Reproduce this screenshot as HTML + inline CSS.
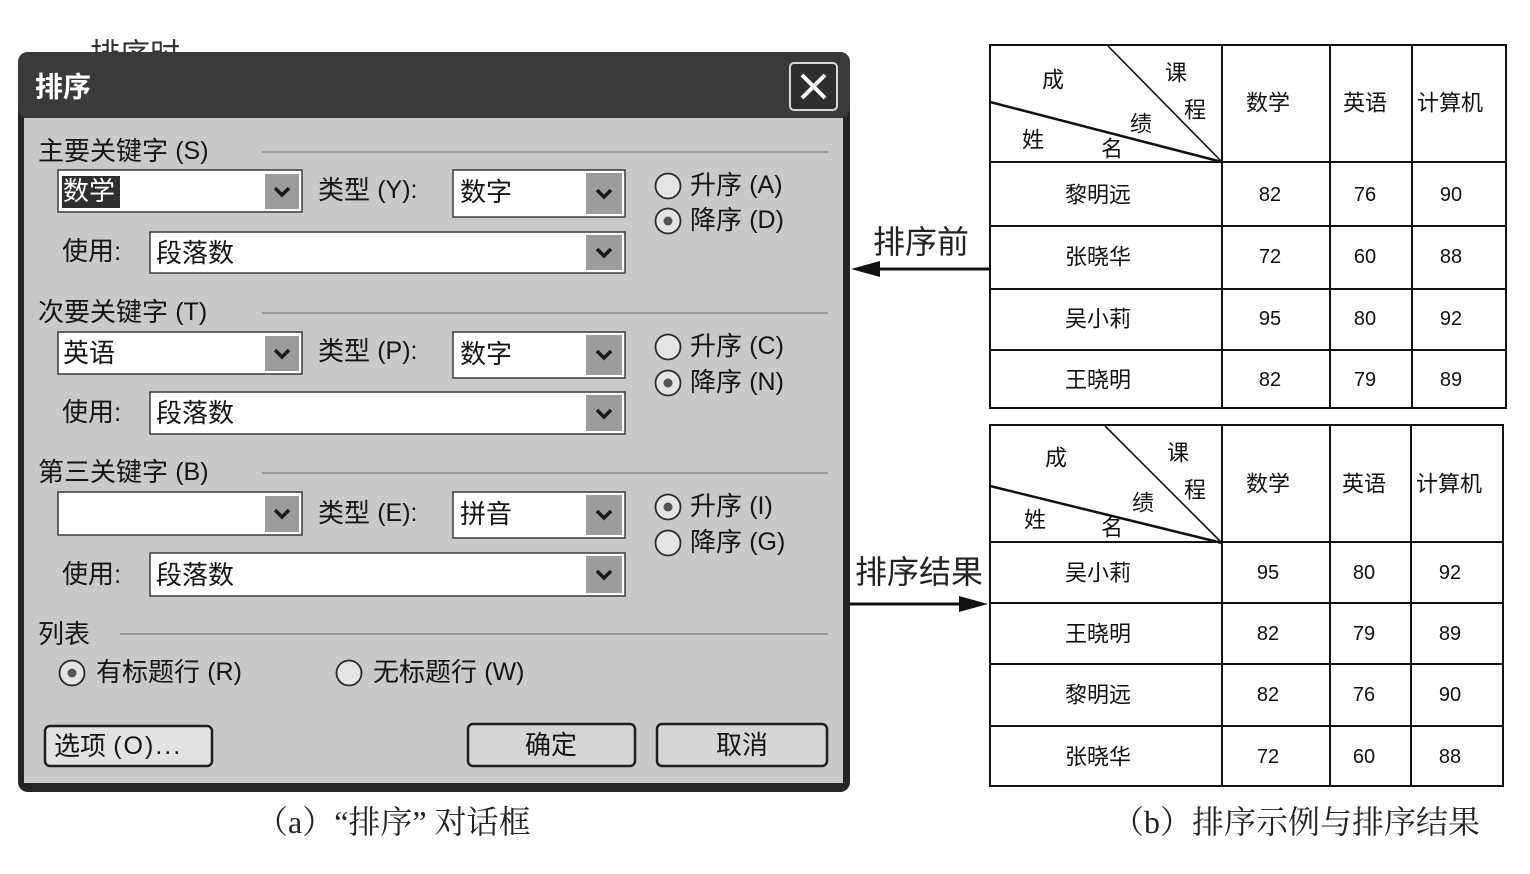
<!DOCTYPE html>
<html><head><meta charset="utf-8"><style>
html,body{margin:0;padding:0;background:#fff;}
svg{display:block;}
</style></head><body>
<svg width="1530" height="874" viewBox="0 0 1530 874" xmlns="http://www.w3.org/2000/svg">
<defs>
<style>
.d{font-family:"Liberation Sans","Noto Sans CJK SC",sans-serif;font-size:26px;fill:#151515;dominant-baseline:central;}
.m{font-size:25px;}
.t{font-family:"Liberation Sans","Noto Sans CJK SC",sans-serif;font-size:22px;fill:#111;dominant-baseline:central;text-anchor:middle;}
.n{font-family:"Liberation Sans","Noto Sans CJK SC",sans-serif;font-size:20px;fill:#111;dominant-baseline:central;text-anchor:middle;}
.s{font-family:"Liberation Serif","Noto Serif CJK SC",serif;font-size:32px;fill:#222;dominant-baseline:central;}
.a{font-family:"Liberation Sans","Noto Sans CJK SC",sans-serif;font-size:32px;fill:#222;dominant-baseline:central;}
</style>
</defs>
<rect width="1530" height="874" fill="#fff"/>

<!-- partially hidden text -->
<text x="90" y="55" class="a" style="font-size:30px;fill:#333">排序时</text>

<!-- dialog -->
<rect x="18" y="52" width="832" height="740" rx="10" fill="#262626"/>
<rect x="18" y="52" width="832" height="66" rx="10" fill="#3a3a3a"/>
<rect x="24" y="118" width="819" height="665" fill="#c9c9c9"/>
<text x="35" y="87" class="d" style="fill:#fff;font-size:28px;font-weight:bold">排序</text>
<rect x="790" y="63" width="47" height="47" rx="4" fill="#2e2e2e" stroke="#d8d8d8" stroke-width="2"/>
<path d="M802 75 L825 98 M825 75 L802 98" stroke="#fff" stroke-width="4"/>

<g>
<text x="38" y="151" class="d">主要关键字 <tspan class="m">(S)</tspan></text>
<line x1="262" y1="152" x2="828" y2="152" stroke="#8c8c8c" stroke-width="1.5"/>
<rect x="58" y="170" width="244" height="42" fill="#fff" stroke="#3a3a3a" stroke-width="1.5"/>
<rect x="62" y="176" width="58" height="32" fill="#2e2e2e"/>
<text x="63" y="191" class="d" style="fill:#fff">数学</text>
<rect x="265" y="174" width="34" height="35" fill="#9c9c9c"/>
<path d="M275 188 L282 195 L289 188" stroke="#1a1a1a" stroke-width="3.5" fill="none"/>
<text x="318" y="190" class="d">类型 <tspan class="m">(Y):</tspan></text>
<rect x="453" y="170" width="172" height="47" fill="#fff" stroke="#3a3a3a" stroke-width="1.5"/>
<text x="460" y="192" class="d">数字</text>
<rect x="586" y="173" width="36" height="41" fill="#9c9c9c"/>
<path d="M597 190 L604 197 L611 190" stroke="#1a1a1a" stroke-width="3.5" fill="none"/>
<circle cx="668" cy="186" r="12.5" fill="#e4e4e4" stroke="#2a2a2a" stroke-width="1.8"/>
<text x="690" y="185" class="d">升序 <tspan class="m">(A)</tspan></text>
<circle cx="668" cy="221" r="12.5" fill="#e4e4e4" stroke="#2a2a2a" stroke-width="1.8"/>
<circle cx="668" cy="221" r="4.5" fill="#555"/>
<text x="690" y="220" class="d">降序 <tspan class="m">(D)</tspan></text>
<text x="62" y="251" class="d">使用:</text>
<rect x="150" y="232" width="475" height="41" fill="#fff" stroke="#3a3a3a" stroke-width="1.5"/>
<text x="156" y="253" class="d">段落数</text>
<rect x="586" y="235" width="36" height="35" fill="#9c9c9c"/>
<path d="M597 249 L604 256 L611 249" stroke="#1a1a1a" stroke-width="3.5" fill="none"/>
</g>

<g transform="translate(0,161)">
<text x="38" y="151" class="d">次要关键字 <tspan class="m">(T)</tspan></text>
<line x1="262" y1="152" x2="828" y2="152" stroke="#8c8c8c" stroke-width="1.5"/>
<rect x="58" y="171" width="244" height="42" fill="#fff" stroke="#3a3a3a" stroke-width="1.5"/>
<text x="63" y="192" class="d">英语</text>
<rect x="265" y="175" width="34" height="35" fill="#9c9c9c"/>
<path d="M275 189 L282 196 L289 189" stroke="#1a1a1a" stroke-width="3.5" fill="none"/>
<text x="318" y="190" class="d">类型 <tspan class="m">(P):</tspan></text>
<rect x="453" y="171" width="172" height="46" fill="#fff" stroke="#3a3a3a" stroke-width="1.5"/>
<text x="460" y="193" class="d">数字</text>
<rect x="586" y="174" width="36" height="40" fill="#9c9c9c"/>
<path d="M597 190 L604 197 L611 190" stroke="#1a1a1a" stroke-width="3.5" fill="none"/>
<circle cx="668" cy="186" r="12.5" fill="#e4e4e4" stroke="#2a2a2a" stroke-width="1.8"/>
<text x="690" y="185" class="d">升序 <tspan class="m">(C)</tspan></text>
<circle cx="668" cy="222" r="12.5" fill="#e4e4e4" stroke="#2a2a2a" stroke-width="1.8"/>
<circle cx="668" cy="222" r="4.5" fill="#555"/>
<text x="690" y="221" class="d">降序 <tspan class="m">(N)</tspan></text>
<text x="62" y="251" class="d">使用:</text>
<rect x="150" y="231" width="475" height="42" fill="#fff" stroke="#3a3a3a" stroke-width="1.5"/>
<text x="156" y="252" class="d">段落数</text>
<rect x="586" y="234" width="36" height="36" fill="#9c9c9c"/>
<path d="M597 249 L604 256 L611 249" stroke="#1a1a1a" stroke-width="3.5" fill="none"/>
</g>

<g transform="translate(0,321)">
<text x="38" y="151" class="d">第三关键字 <tspan class="m">(B)</tspan></text>
<line x1="262" y1="152" x2="828" y2="152" stroke="#8c8c8c" stroke-width="1.5"/>
<rect x="58" y="171" width="244" height="43" fill="#fff" stroke="#3a3a3a" stroke-width="1.5"/>
<rect x="265" y="175" width="34" height="36" fill="#9c9c9c"/>
<path d="M275 189 L282 196 L289 189" stroke="#1a1a1a" stroke-width="3.5" fill="none"/>
<text x="318" y="192" class="d">类型 <tspan class="m">(E):</tspan></text>
<rect x="453" y="171" width="172" height="46" fill="#fff" stroke="#3a3a3a" stroke-width="1.5"/>
<text x="460" y="193" class="d">拼音</text>
<rect x="586" y="174" width="36" height="40" fill="#9c9c9c"/>
<path d="M597 190 L604 197 L611 190" stroke="#1a1a1a" stroke-width="3.5" fill="none"/>
<circle cx="668" cy="186" r="12.5" fill="#e4e4e4" stroke="#2a2a2a" stroke-width="1.8"/>
<circle cx="668" cy="186" r="4.5" fill="#555"/>
<text x="690" y="185" class="d">升序 <tspan class="m">(I)</tspan></text>
<circle cx="668" cy="222" r="12.5" fill="#e4e4e4" stroke="#2a2a2a" stroke-width="1.8"/>
<text x="690" y="221" class="d">降序 <tspan class="m">(G)</tspan></text>
<text x="62" y="253" class="d">使用:</text>
<rect x="150" y="232" width="475" height="43" fill="#fff" stroke="#3a3a3a" stroke-width="1.5"/>
<text x="156" y="254" class="d">段落数</text>
<rect x="586" y="235" width="36" height="37" fill="#9c9c9c"/>
<path d="M597 250 L604 257 L611 250" stroke="#1a1a1a" stroke-width="3.5" fill="none"/>
</g>

<text x="38" y="634" class="d">列表</text>
<line x1="120" y1="634" x2="828" y2="634" stroke="#8c8c8c" stroke-width="1.5"/>
<circle cx="72" cy="673" r="12.5" fill="#e4e4e4" stroke="#2a2a2a" stroke-width="1.8"/>
<circle cx="72" cy="673" r="4.5" fill="#555"/>
<text x="96" y="672" class="d">有标题行 <tspan class="m">(R)</tspan></text>
<circle cx="349" cy="673" r="12.5" fill="#e4e4e4" stroke="#2a2a2a" stroke-width="1.8"/>
<text x="373" y="672" class="d">无标题行 <tspan class="m">(W)</tspan></text>

<rect x="45" y="726" width="167" height="40" rx="5" fill="#e2e2e2" stroke="#1e1e1e" stroke-width="2.5"/>
<text x="54" y="746" class="d">选项 <tspan class="m" style="letter-spacing:2px">(O)...</tspan></text>
<rect x="468" y="724" width="167" height="42" rx="5" fill="#d6d6d6" stroke="#1e1e1e" stroke-width="2.5"/>
<text x="551" y="745" class="d" style="text-anchor:middle">确定</text>
<rect x="657" y="724" width="170" height="42" rx="5" fill="#d6d6d6" stroke="#1e1e1e" stroke-width="2.5"/>
<text x="742" y="745" class="d" style="text-anchor:middle">取消</text>

<text x="256" y="822" class="s">（a）“排序” 对话框</text>

<!-- arrows -->
<text x="873" y="242" class="a">排序前</text>
<line x1="872" y1="269" x2="990" y2="269" stroke="#111" stroke-width="3"/>
<path d="M851 269 L880 261 L880 277 Z" fill="#111"/>
<text x="855" y="572" class="a">排序结果</text>
<line x1="850" y1="604" x2="968" y2="604" stroke="#111" stroke-width="3"/>
<path d="M988 604 L959 596 L959 612 Z" fill="#111"/>

<!-- table 1 -->
<g stroke="#111" stroke-width="2" fill="none">
<rect x="990" y="45" width="516" height="363"/>
<line x1="990" y1="162" x2="1506" y2="162"/>
<line x1="990" y1="226" x2="1506" y2="226"/>
<line x1="990" y1="289" x2="1506" y2="289"/>
<line x1="990" y1="350" x2="1506" y2="350"/>
<line x1="1222" y1="45" x2="1222" y2="408"/>
<line x1="1330" y1="45" x2="1330" y2="408"/>
<line x1="1412" y1="45" x2="1412" y2="408"/>
<line x1="1222" y1="162" x2="1108" y2="46" stroke-width="1.6"/>
<line x1="1222" y1="162" x2="990" y2="102" stroke-width="2.5"/>
</g>
<text x="1053" y="80" class="t">成</text>
<text x="1176" y="73" class="t">课</text>
<text x="1195" y="110" class="t">程</text>
<text x="1141" y="124" class="t">绩</text>
<text x="1033" y="140" class="t">姓</text>
<text x="1112" y="149" class="t">名</text>
<text x="1268" y="103" class="t">数学</text>
<text x="1365" y="103" class="t">英语</text>
<text x="1450" y="103" class="t">计算机</text>
<text x="1098" y="195" class="t">黎明远</text><text x="1270" y="195" class="n">82</text><text x="1365" y="195" class="n">76</text><text x="1451" y="195" class="n">90</text>
<text x="1098" y="257" class="t">张晓华</text><text x="1270" y="257" class="n">72</text><text x="1365" y="257" class="n">60</text><text x="1451" y="257" class="n">88</text>
<text x="1098" y="319" class="t">吴小莉</text><text x="1270" y="319" class="n">95</text><text x="1365" y="319" class="n">80</text><text x="1451" y="319" class="n">92</text>
<text x="1098" y="380" class="t">王晓明</text><text x="1270" y="380" class="n">82</text><text x="1365" y="380" class="n">79</text><text x="1451" y="380" class="n">89</text>

<!-- table 2 -->
<g stroke="#111" stroke-width="2" fill="none">
<rect x="990" y="425" width="513" height="361"/>
<line x1="990" y1="542" x2="1503" y2="542"/>
<line x1="990" y1="603" x2="1503" y2="603"/>
<line x1="990" y1="664" x2="1503" y2="664"/>
<line x1="990" y1="726" x2="1503" y2="726"/>
<line x1="1222" y1="425" x2="1222" y2="786"/>
<line x1="1330" y1="425" x2="1330" y2="786"/>
<line x1="1411" y1="425" x2="1411" y2="786"/>
<line x1="1222" y1="543" x2="1105" y2="426" stroke-width="1.6"/>
<line x1="1222" y1="543" x2="990" y2="486" stroke-width="2.5"/>
</g>
<text x="1056" y="458" class="t">成</text>
<text x="1178" y="453" class="t">课</text>
<text x="1195" y="490" class="t">程</text>
<text x="1143" y="503" class="t">绩</text>
<text x="1035" y="520" class="t">姓</text>
<text x="1112" y="528" class="t">名</text>
<text x="1268" y="484" class="t">数学</text>
<text x="1364" y="484" class="t">英语</text>
<text x="1449" y="484" class="t">计算机</text>
<text x="1098" y="573" class="t">吴小莉</text><text x="1268" y="573" class="n">95</text><text x="1364" y="573" class="n">80</text><text x="1450" y="573" class="n">92</text>
<text x="1098" y="634" class="t">王晓明</text><text x="1268" y="634" class="n">82</text><text x="1364" y="634" class="n">79</text><text x="1450" y="634" class="n">89</text>
<text x="1098" y="695" class="t">黎明远</text><text x="1268" y="695" class="n">82</text><text x="1364" y="695" class="n">76</text><text x="1450" y="695" class="n">90</text>
<text x="1098" y="757" class="t">张晓华</text><text x="1268" y="757" class="n">72</text><text x="1364" y="757" class="n">60</text><text x="1450" y="757" class="n">88</text>

<text x="1112" y="822" class="s">（b）排序示例与排序结果</text>
</svg>
</body></html>
